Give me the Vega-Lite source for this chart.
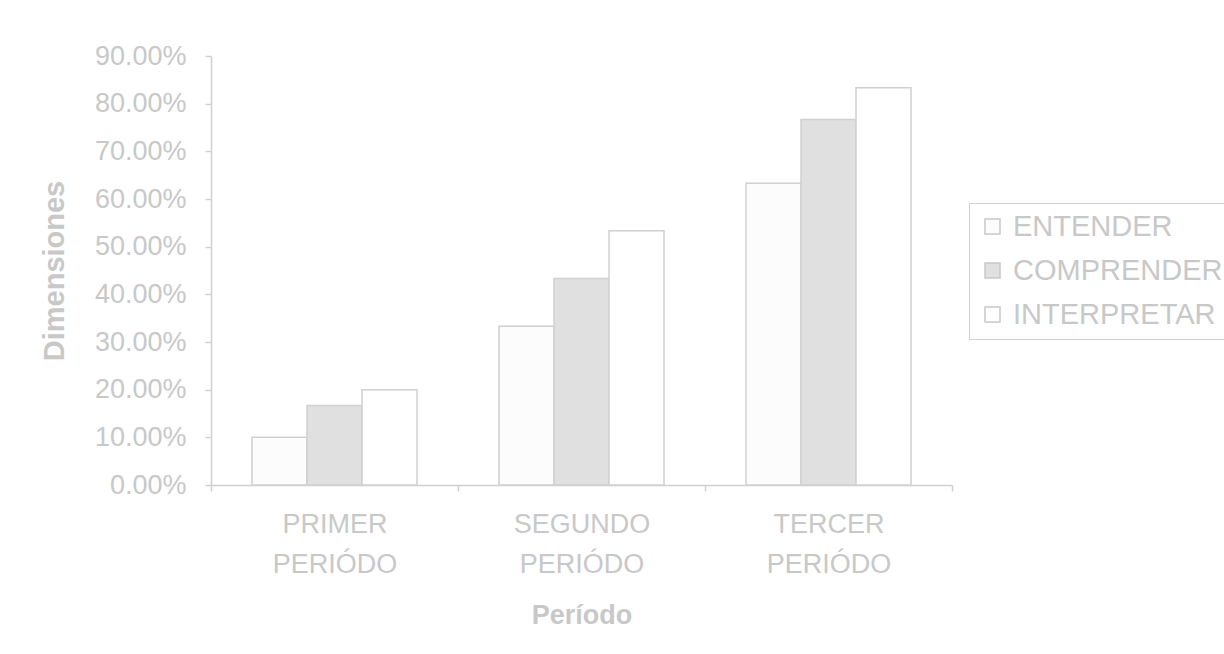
{
  "$schema": "https://vega.github.io/schema/vega-lite/v6.json",
  "autosize": "none",
  "padding": {"left": 211, "top": 56, "right": 272, "bottom": 169},
  "width": 741,
  "height": 429,
  "background": "#ffffff",
  "config": {
    "font": "Liberation Sans",
    "view": {"stroke": null},
    "axis": {
      "domainColor": "#d0d0d0",
      "tickColor": "#d0d0d0",
      "labelColor": "#c8c8c8",
      "titleColor": "#c8c8c8",
      "labelFont": "Liberation Sans",
      "titleFont": "Liberation Sans",
      "labelFontSize": 27,
      "titleFontSize": 27,
      "titleFontWeight": "bold",
      "grid": false,
      "tickSize": 6,
      "domainWidth": 1.5,
      "tickWidth": 1.5,
      "labelOverlap": false
    }
  },
  "data": {
    "values": [
      {"periodo": "PRIMER PERIÓDO", "dimension": "ENTENDER", "valor": 0.10},
      {"periodo": "PRIMER PERIÓDO", "dimension": "COMPRENDER", "valor": 0.1667},
      {"periodo": "PRIMER PERIÓDO", "dimension": "INTERPRETAR", "valor": 0.20},
      {"periodo": "SEGUNDO PERIÓDO", "dimension": "ENTENDER", "valor": 0.3333},
      {"periodo": "SEGUNDO PERIÓDO", "dimension": "COMPRENDER", "valor": 0.4333},
      {"periodo": "SEGUNDO PERIÓDO", "dimension": "INTERPRETAR", "valor": 0.5333},
      {"periodo": "TERCER PERIÓDO", "dimension": "ENTENDER", "valor": 0.6333},
      {"periodo": "TERCER PERIÓDO", "dimension": "COMPRENDER", "valor": 0.7667},
      {"periodo": "TERCER PERIÓDO", "dimension": "INTERPRETAR", "valor": 0.8333}
    ]
  },
  "mark": {"type": "bar", "stroke": "#d0d0d0", "strokeWidth": 1.5},
  "encoding": {
    "x": {
      "field": "periodo",
      "type": "nominal",
      "sort": ["PRIMER PERIÓDO", "SEGUNDO PERIÓDO", "TERCER PERIÓDO"],
      "scale": {"paddingInner": 0, "paddingOuter": 0},
      "axis": {
        "title": "Período",
        "labelAngle": 0,
        "labelExpr": "datum.value ? split(datum.value, ' ') : ''",
        "labelLineHeight": 40,
        "labelPadding": 20,
        "tickBand": "extent",
        "titlePadding": 25
      }
    },
    "xOffset": {
      "field": "dimension",
      "type": "nominal",
      "sort": ["ENTENDER", "COMPRENDER", "INTERPRETAR"],
      "scale": {"paddingInner": 0, "paddingOuter": 0.745}
    },
    "y": {
      "field": "valor",
      "type": "quantitative",
      "scale": {"domain": [0, 0.9], "nice": false},
      "axis": {
        "title": "Dimensiones",
        "titleFontSize": 29,
        "format": ".2%",
        "values": [0, 0.1, 0.2, 0.3, 0.4, 0.5, 0.6, 0.7, 0.8, 0.9],
        "labelPadding": 19,
        "titlePadding": 25
      }
    },
    "fill": {
      "field": "dimension",
      "type": "nominal",
      "sort": ["ENTENDER", "COMPRENDER", "INTERPRETAR"],
      "scale": {"domain": ["ENTENDER", "COMPRENDER", "INTERPRETAR"], "range": ["#fcfcfc", "#e0e0e0", "#ffffff"]},
      "legend": {
        "title": null,
        "orient": "none",
        "legendX": 758,
        "legendY": 147,
        "padding": 9,
        "strokeColor": "#d0d0d0",
        "symbolType": "square",
        "symbolSize": 225,
        "symbolStrokeColor": "#c8c8c8",
        "symbolStrokeWidth": 1.5,
        "symbolOpacity": 1,
        "labelFont": "Liberation Sans",
        "labelFontSize": 29,
        "labelColor": "#c8c8c8",
        "labelOffset": 6,
        "labelLimit": 300,
        "rowPadding": 14
      }
    }
  }
}
